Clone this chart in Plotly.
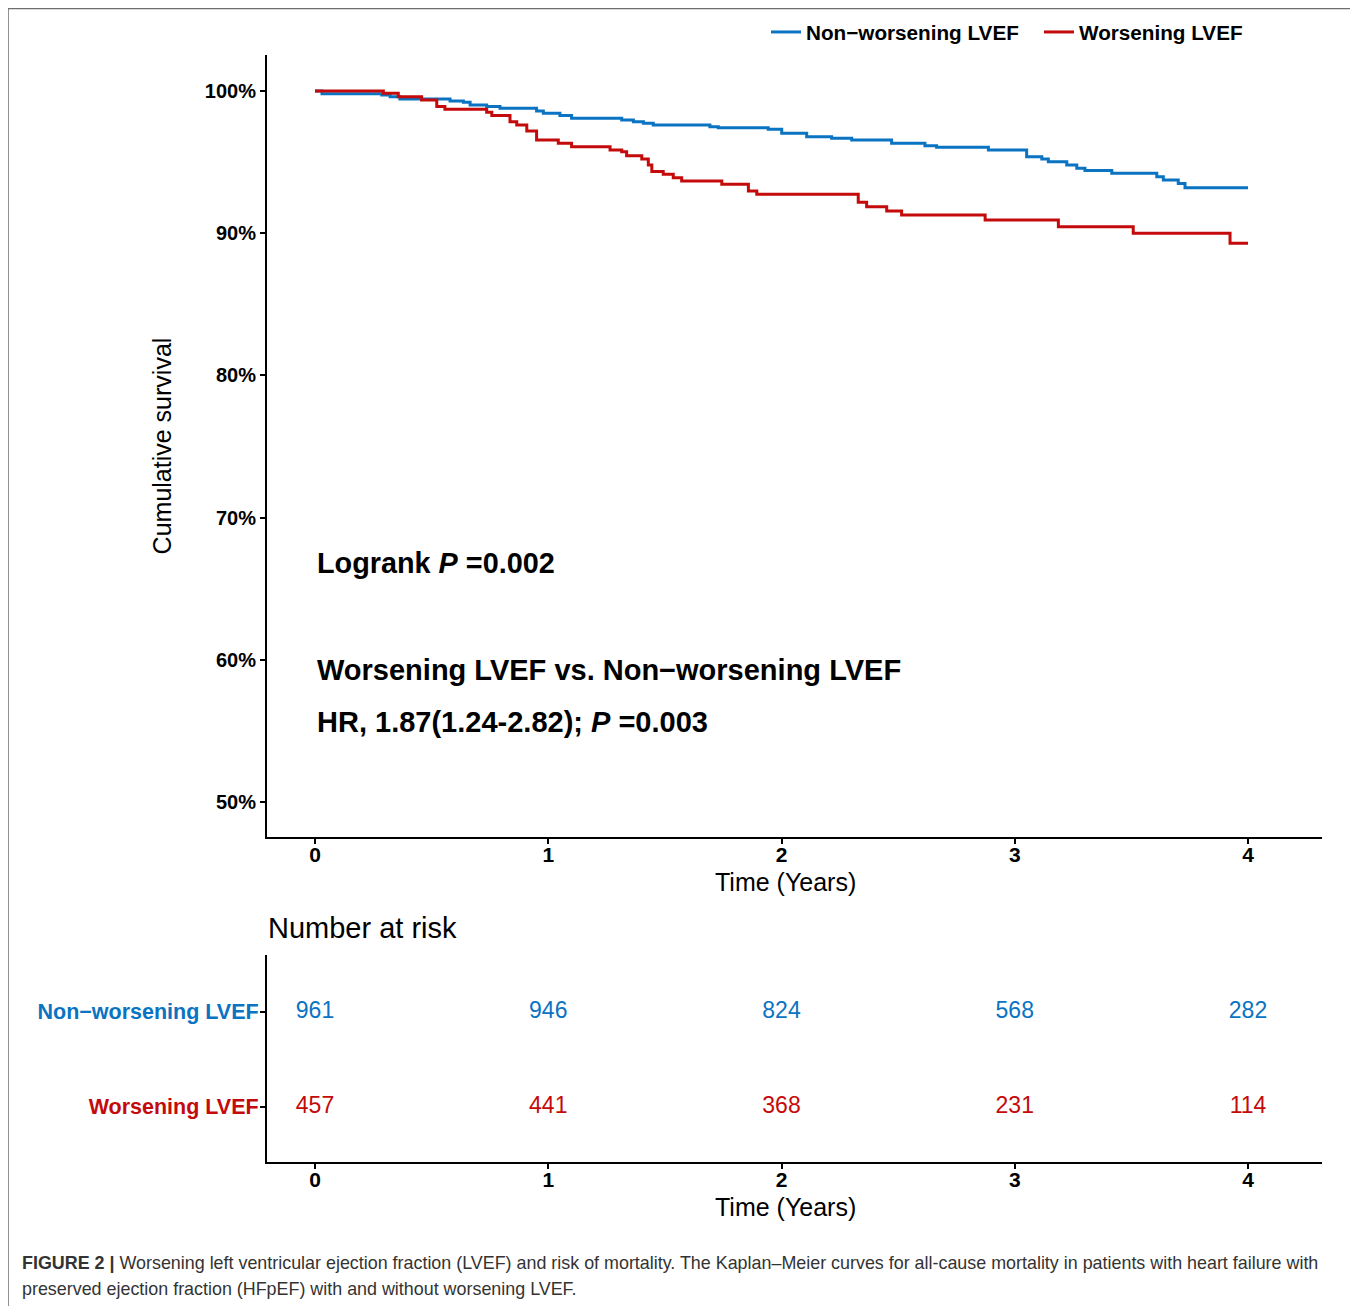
import plotly.graph_objects as go

# ---------------- data ----------------
blue_t = [0, 0.03, 0.286, 0.322, 0.364, 0.579, 0.636, 0.665, 0.736, 0.793, 0.950, 0.979, 1.050, 1.100,
          1.315, 1.365, 1.408, 1.450, 1.693, 1.729, 1.943, 2.001, 2.108, 2.215, 2.301, 2.472, 2.615, 2.665,
          2.887, 3.051, 3.116, 3.144, 3.223, 3.266, 3.301, 3.416, 3.609, 3.637, 3.701, 3.730, 4.0]
blue_s = [100, 99.81, 99.72, 99.60, 99.44, 99.30, 99.20, 99.02, 98.90, 98.78, 98.60, 98.43, 98.27, 98.08,
          97.96, 97.84, 97.73, 97.60, 97.49, 97.42, 97.30, 97.03, 96.79, 96.67, 96.55, 96.32, 96.15, 96.04,
          95.85, 95.38, 95.22, 95.03, 94.80, 94.57, 94.40, 94.21, 93.97, 93.74, 93.50, 93.20, 93.20]

red_t = [0, 0.293, 0.357, 0.457, 0.522, 0.557, 0.736, 0.758, 0.836, 0.865, 0.908, 0.950, 1.043, 1.100,
         1.265, 1.315, 1.336, 1.401, 1.429, 1.444, 1.493, 1.536, 1.572, 1.744, 1.858, 1.894, 2.329, 2.365,
         2.451, 2.515, 2.873, 3.187, 3.508, 3.923, 4.0]
red_s = [100, 99.84, 99.60, 99.37, 98.90, 98.71, 98.50, 98.27, 97.84, 97.60, 97.19, 96.55, 96.32, 96.08,
         95.85, 95.73, 95.45, 95.22, 94.80, 94.33, 94.14, 93.90, 93.67, 93.44, 92.97, 92.74, 92.17, 91.86,
         91.56, 91.28, 90.93, 90.46, 90.00, 89.29, 89.29]

risk_times = [0, 1, 2, 3, 4]
risk_non = [961, 946, 824, 568, 282]
risk_wor = [457, 441, 368, 231, 114]

y_ticks = [50, 60, 70, 80, 90, 100]
y_ticklabels = ["50%", "60%", "70%", "80%", "90%", "100%"]
x_ticks = [0, 1, 2, 3, 4]

BLUE = "#0A73C2"
RED = "#C40A0A"
FONT = "Liberation Sans, Arial, Helvetica, sans-serif"

# page body has an 8px margin; the figure's paper starts at screen (8, 8)
OFF = 8
W, H = 1350, 1298

def px_x(p):
    return (p - OFF) / W

def px_y(p):
    return 1 - (p - OFF) / H

fig = go.Figure()

fig.add_trace(go.Scatter(x=blue_t, y=blue_s, mode="lines", line=dict(color=BLUE, width=3, shape="hv"),
                         name="Non\u2212worsening LVEF", xaxis="x", yaxis="y"))
fig.add_trace(go.Scatter(x=red_t, y=red_s, mode="lines", line=dict(color=RED, width=3, shape="hv"),
                         name="Worsening LVEF", xaxis="x", yaxis="y"))

# risk table
fig.add_trace(go.Scatter(x=risk_times, y=[2] * len(risk_times), mode="text",
                         text=[str(v) for v in risk_non], textposition="middle center",
                         textfont=dict(color=BLUE, size=23, family=FONT),
                         showlegend=False, xaxis="x2", yaxis="y2", hoverinfo="skip"))
fig.add_trace(go.Scatter(x=risk_times, y=[1] * len(risk_times), mode="text",
                         text=[str(v) for v in risk_wor], textposition="middle center",
                         textfont=dict(color=RED, size=23, family=FONT),
                         showlegend=False, xaxis="x2", yaxis="y2", hoverinfo="skip"))

xdom = [px_x(267), px_x(1322)]
xrange = [-48 / 233.25, (1322 - 315) / 233.25]

axis_common = dict(showline=True, linecolor="black", linewidth=2, ticks="outside", ticklen=5,
                   tickwidth=2, tickcolor="black", showgrid=False, zeroline=False, mirror=False)

fig.update_layout(
    width=W, height=H,
    margin=dict(l=0, r=0, t=0, b=0),
    paper_bgcolor="white", plot_bgcolor="white",
    font=dict(family=FONT, color="black"),
    xaxis=dict(domain=xdom, range=xrange, tickvals=x_ticks, ticktext=[f"<b>{v}</b>" for v in x_ticks],
               tickfont=dict(size=21), anchor="y", ticklabelstandoff=-7, **axis_common),
    yaxis=dict(domain=[px_y(837), px_y(55)], range=[47.54, 102.53], tickvals=y_ticks,
               ticktext=[f"<b>{t}</b>" for t in y_ticklabels], tickfont=dict(size=20), anchor="x",
               ticklabelstandoff=0,
               title=dict(text="Cumulative survival", font=dict(size=25), standoff=26), **axis_common),
    xaxis2=dict(domain=xdom, range=xrange, tickvals=x_ticks, ticktext=[f"<b>{v}</b>" for v in x_ticks],
                tickfont=dict(size=21), anchor="y2", ticklabelstandoff=-7, **axis_common),
    yaxis2=dict(domain=[px_y(1162), px_y(955)], range=[0.42, 2.598], tickvals=[2, 1],
                ticktext=[f"<span style='color:{BLUE}'><b>Non\u2212worsening LVEF</b></span>",
                          f"<span style='color:{RED}'><b>Worsening LVEF</b></span>"],
                tickfont=dict(size=21.5), anchor="x2", ticklabelstandoff=-3, **axis_common),
    legend=dict(orientation="h", x=px_x(766), xanchor="left", y=px_y(12), yanchor="top",
                font=dict(size=20.7, weight="bold"), bgcolor="rgba(0,0,0,0)",
                entrywidth=228, entrywidthmode="pixels", itemwidth=30, tracegroupgap=0),
    showlegend=True,
)

# axis titles for x (placed to match the reference centring)
fig.add_annotation(x=px_x(785), y=px_y(882), xref="paper", yref="paper", xanchor="center", yanchor="middle",
                   text="Time (Years)", showarrow=False, font=dict(size=25))
fig.add_annotation(x=px_x(785), y=px_y(1207), xref="paper", yref="paper", xanchor="center", yanchor="middle",
                   text="Time (Years)", showarrow=False, font=dict(size=25))

# annotations
fig.add_annotation(x=0, y=66.81, xref="x", yref="y", xanchor="left", yanchor="middle",
                   text="<b>Logrank <i>P</i> =0.002</b>", showarrow=False, font=dict(size=28.8))
fig.add_annotation(x=0, y=59.28, xref="x", yref="y", xanchor="left", yanchor="middle",
                   text="<b>Worsening LVEF vs. Non\u2212worsening LVEF</b>", showarrow=False, font=dict(size=29))
fig.add_annotation(x=0, y=55.63, xref="x", yref="y", xanchor="left", yanchor="middle",
                   text="<b>HR, 1.87(1.24-2.82); <i>P</i> =0.003</b>", showarrow=False, font=dict(size=29))

fig.add_annotation(x=px_x(266), y=px_y(928), xref="paper", yref="paper", xanchor="left", yanchor="middle",
                   text="Number at risk", showarrow=False, font=dict(size=29))

CAP_FONT = "Liberation Sans, Arial, sans-serif"
fig.add_annotation(x=px_x(20), y=px_y(1263), xref="paper", yref="paper", xanchor="left", yanchor="middle",
                   text="<b>FIGURE 2 |</b> Worsening left ventricular ejection fraction (LVEF) and risk of mortality. "
                        "The Kaplan\u2013Meier curves for all-cause mortality in patients with heart failure with",
                   showarrow=False, font=dict(size=17.9, family=CAP_FONT, color="#333333"))
fig.add_annotation(x=px_x(20), y=px_y(1289), xref="paper", yref="paper", xanchor="left", yanchor="middle",
                   text="preserved ejection fraction (HFpEF) with and without worsening LVEF.",
                   showarrow=False, font=dict(size=17.9, family=CAP_FONT, color="#333333"))

# frame
fig.add_shape(type="rect", xref="paper", yref="paper", x0=px_x(8), x1=px_x(1355), y0=px_y(1320),
              y1=px_y(8.5), line=dict(color="#6e6e6e", width=1.5), fillcolor="rgba(0,0,0,0)", layer="below")

fig.write_html("out.html")
